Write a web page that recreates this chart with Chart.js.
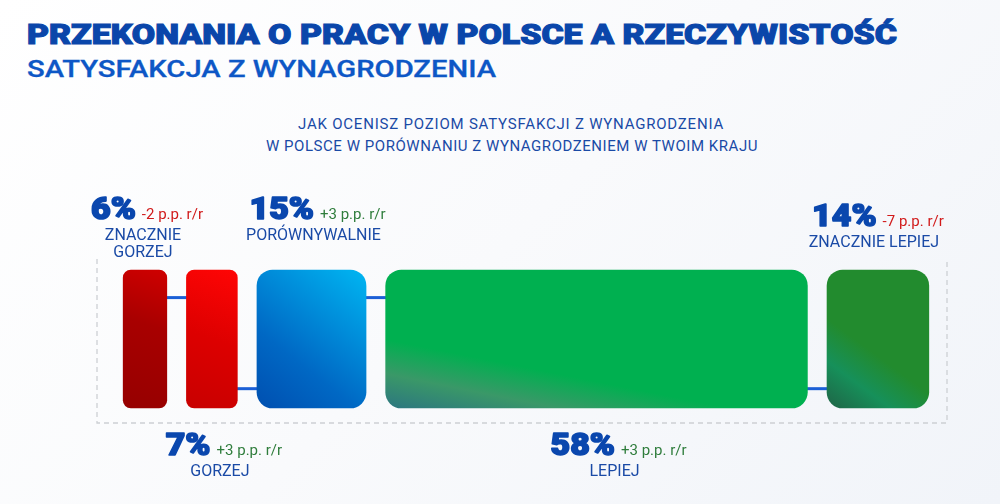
<!DOCTYPE html>
<html><head><meta charset="utf-8">
<script src="https://cdn.jsdelivr.net/npm/chart.js@4.4.1/dist/chart.umd.min.js"></script>
<style>
html,body{margin:0;padding:0;}
body{width:1000px;height:504px;position:relative;overflow:hidden;background:linear-gradient(135deg,#ffffff 0%,#f9fafc 50%,#f1f4f9 100%);font-family:Roboto,"Noto Sans",sans-serif;}
.t{position:absolute;white-space:nowrap;line-height:1;transform-origin:0 0;}
#title{left:27px;top:21px;font-size:28px;font-weight:900;color:#0a46aa;-webkit-text-stroke:1.1px #0a46aa;}
#subtitle{left:27px;top:57px;font-size:24px;font-weight:500;color:#0d57c6;-webkit-text-stroke:0.3px #0d57c6;}
#q1,#q2{font-size:15px;font-weight:400;color:#1a4aa6;}
#q1{top:117px;} #q2{top:139px;}
#c{position:absolute;left:0;top:0;}
</style></head>
<body>
<div id="title" class="t">PRZEKONANIA O PRACY W POLSCE A RZECZYWISTOŚĆ</div>
<div id="subtitle" class="t">SATYSFAKCJA Z WYNAGRODZENIA</div>
<div id="q1" class="t">JAK OCENISZ POZIOM SATYSFAKCJI Z WYNAGRODZENIA</div>
<div id="q2" class="t">W POLSCE W PORÓWNANIU Z WYNAGRODZENIEM W TWOIM KRAJU</div>
<canvas id="c" width="1000" height="504"></canvas>
<script>
// ---- data ----
const categories = ['ZNACZNIE GORZEJ', 'GORZEJ', 'PORÓWNYWALNIE', 'LEPIEJ', 'ZNACZNIE LEPIEJ'];
const labelLines = [['ZNACZNIE', 'GORZEJ'], ['GORZEJ'], ['PORÓWNYWALNIE'], ['LEPIEJ'], ['ZNACZNIE LEPIEJ']];
const shares = [6, 7, 15, 58, 14];
const changes = [-2, 3, 3, 3, -7];
const changeUnit = 'p.p. r/r';

// ---- layout / style (not data) ----
const labelSide = ['top', 'bottom', 'top', 'bottom', 'top'];
const nudgeX = [2, 12, 6, 22, 0];
const nudgeY = [0, 0, 0, 0, 7];
const GAP = 2.7;
const BAR = 138;
const palette = [
  [[0, '#960000'], [0.6, '#a80000'], [1, '#cf0000']],
  [[0, '#c80000'], [0.5, '#dd0000'], [1, '#ff0505']],
  [[0, '#004fb0'], [0.35, '#0068c4'], [1, '#00b6f2']],
  [[0, '#2c7680'], [0.3, '#3a9868'], [0.6, '#00b050'], [1, '#00b050']],
  [[0, '#1f6446'], [0.22, '#16905a'], [0.42, '#228b2e'], [1, '#228b2e']]
];

// floating ranges derived from shares
const ranges = [];
{ let acc = 0; shares.forEach((v, i) => { const s = acc + GAP * i; ranges.push([s, s + v]); acc += v; }); }

function grad(ctx, i) {
  const ch = ctx.chart, a = ch.chartArea;
  const stops = palette[i];
  if (!a || !ch.scales.x || !ch.scales.y) return stops[stops.length - 1][1];
  const x0 = ch.scales.x.getPixelForValue(ranges[i][0]);
  const x1 = ch.scales.x.getPixelForValue(ranges[i][1]);
  const yc = ch.scales.y.getPixelForValue(0);
  const y0 = yc - BAR / 2, y1 = yc + BAR / 2;
  let g;
  if (i === 3) g = ch.ctx.createLinearGradient(x0, y1, x0 + 22, y1 - 110);
  else g = ch.ctx.createLinearGradient(x0, y1, x1, y0);
  stops.forEach(s => g.addColorStop(s[0], s[1]));
  return g;
}

const boxPlugin = {
  id: 'box',
  beforeDatasetsDraw(chart) {
    const c = chart.ctx, a = chart.chartArea;
    c.save();
    c.strokeStyle = '#cdd0d4'; c.lineWidth = 1.3; c.setLineDash([5, 4]);
    c.beginPath();
    c.moveTo(a.left, a.top + 2); c.lineTo(a.left, a.bottom + 2);
    c.lineTo(a.right, a.bottom + 2); c.lineTo(a.right, a.top + 2);
    c.stroke();
    c.setLineDash([]);
    // connectors
    c.strokeStyle = '#1b5fd6'; c.lineWidth = 3;
    for (let i = 0; i < categories.length - 1; i++) {
      const e1 = chart.getDatasetMeta(i).data[0];
      const e2 = chart.getDatasetMeta(i + 1).data[0];
      const top = e1.y - BAR / 2;
      const y = (i % 2 === 0) ? top + BAR * 0.2 : top + BAR * 0.86;
      c.beginPath(); c.moveTo(e1.x - 4, y); c.lineTo(e2.base + 4, y); c.stroke();
    }
    c.restore();
  }
};

const labelPlugin = {
  id: 'labels',
  afterDatasetsDraw(chart) {
    const c = chart.ctx;
    c.save();
    categories.forEach((cat, i) => {
      const e = chart.getDatasetMeta(i).data[0];
      const cx = (e.x + e.base) / 2 + nudgeX[i];
      const top = e.y - BAR / 2, bot = e.y + BAR / 2;
      const pctBase = labelSide[i] === 'top' ? top - 51 + nudgeY[i] : bot + 47;
      const pct = shares[i] + '%';
      const ch = (changes[i] > 0 ? '+' : '-') + Math.abs(changes[i]) + ' ' + changeUnit;
      c.font = '900 32px Roboto';
      const wp = c.measureText(pct).width * 1.06;
      c.font = '400 15px Roboto';
      const wc = c.measureText(ch).width;
      const total = wp + 6 + wc;
      const sx = cx - total / 2;
      c.textAlign = 'left'; c.textBaseline = 'alphabetic';
      c.save();
      c.translate(sx, pctBase); c.scale(1.06, 1);
      c.font = '900 32px Roboto'; c.fillStyle = '#0a47ae'; c.strokeStyle = '#0a47ae'; c.lineWidth = 1.6; c.lineJoin = 'round';
      c.fillText(pct, 0, 0); c.strokeText(pct, 0, 0);
      c.restore();
      c.font = '400 15px Roboto'; c.fillStyle = changes[i] < 0 ? '#d11a1a' : '#2f7d3c';
      c.fillText(ch, sx + wp + 6, pctBase);
      c.font = '400 16px Roboto'; c.fillStyle = '#1a4aa6'; c.textAlign = 'center';
      labelLines[i].forEach((ln, k) => c.fillText(ln, cx - 4, pctBase + 21 + k * 17));
    });
    c.restore();
  }
};

new Chart(document.getElementById('c'), {
  type: 'bar',
  data: {
    labels: ['wynagrodzenie'],
    datasets: categories.map((cat, i) => ({
      label: cat,
      data: [ranges[i]],
      grouped: false,
      barThickness: BAR,
      borderRadius: i < 2 ? 8 : 16,
      borderSkipped: false,
      borderWidth: 0,
      backgroundColor: ctx => grad(ctx, i)
    }))
  },
  options: {
    indexAxis: 'y',
    responsive: false,
    animation: false,
    layout: { padding: { left: 97, right: 53, top: 257, bottom: 83 } },
    scales: {
      x: { display: false, min: -3.6, max: 100 + GAP * 4 + 2.5 },
      y: { display: false }
    },
    plugins: { legend: { display: false }, tooltip: { enabled: false }, title: { display: false } }
  },
  plugins: [boxPlugin, labelPlugin]
});

// fit headline widths to the reference
function stretch(id, target) {
  const el = document.getElementById(id);
  const w = el.getBoundingClientRect().width;
  el.style.transform = 'scaleX(' + (target / w) + ')';
}
function spread(id, target, center) {
  const el = document.getElementById(id);
  el.style.letterSpacing = '0px';
  const w = el.getBoundingClientRect().width;
  const n = el.textContent.length;
  el.style.letterSpacing = ((target - w) / n) + 'px';
  const w2 = el.getBoundingClientRect().width;
  el.style.left = (center - w2 / 2) + 'px';
}
stretch('title', 870); stretch('subtitle', 469);
spread('q1', 426, 511); spread('q2', 492, 512);
</script>
</body></html>
